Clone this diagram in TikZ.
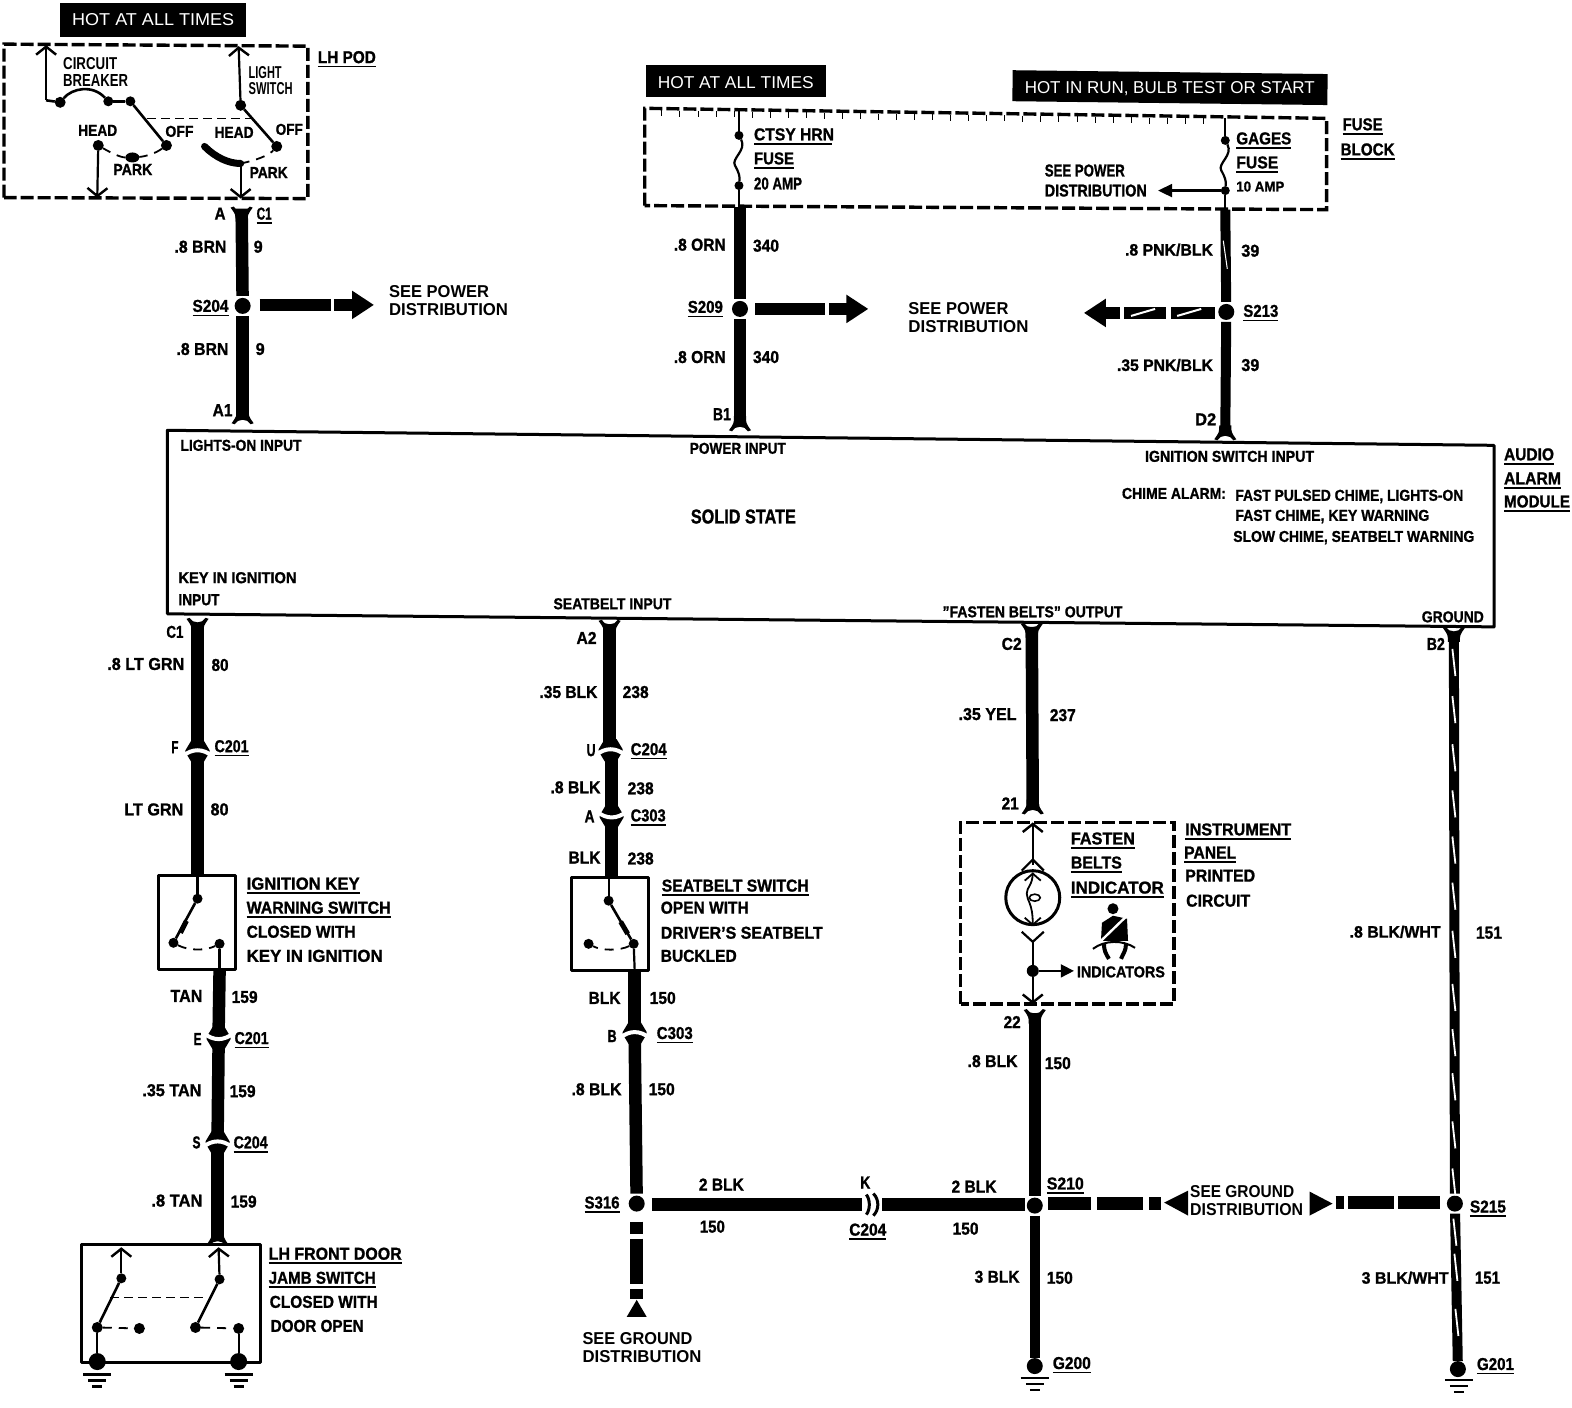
\documentclass[tikz,border=0pt]{standalone}
\usepackage{fontspec}
\usepackage{graphicx}
\setmainfont{Liberation Sans}[BoldFeatures={FakeBold=1.2}]
\newfontfamily\plainb{Liberation Sans Bold}
\usetikzlibrary{arrows.meta}
\newcount\tc
\newcount\wc
\newcommand\tx[5][12]{\global\advance\tc by 1 \node[txt] (t\the\tc) at (#2,#3) {\resizebox{#4pt}{#1pt}{#5}};}
\newcommand\ux[5][0]{\tx{#2}{#3}{#4}{#5}\draw[ul] ([yshift=-3.5pt]t\the\tc.base west) -- ([yshift=-3.5pt,xshift=#1pt]t\the\tc.base east);}
\newcommand\wirexy[3][wire]{\global\advance\wc by 1 \coordinate (w\the\wc a) at (#2); \coordinate (w\the\wc b) at (#3); \draw[#1] (w\the\wc a) -- (w\the\wc b);}
\newcommand\capdown[2]{\fill (#1-6,#2-9) .. controls (#1-6,#2-2) .. (#1-11,#2+5) -- (#1-8,#2+6) .. controls (#1-5,#2) and (#1+5,#2) .. (#1+8,#2+6) -- (#1+11,#2+5) .. controls (#1+6,#2-2) .. (#1+6,#2-9) -- cycle;}
\newcommand\capup[2]{\fill (#1-6,#2+9) .. controls (#1-6,#2+2) .. (#1-11,#2-5) -- (#1-8,#2-6) .. controls (#1-5,#2) and (#1+5,#2) .. (#1+8,#2-6) -- (#1+11,#2-5) .. controls (#1+6,#2+2) .. (#1+6,#2+9) -- cycle;}
\newcommand\conn[3]{\fill (#1-6,#2-11) -- (#1-12,#2-1) -- (#1-12,#2+1) -- (#1-6,#2+11) -- (#1+6,#2+11) -- (#1+12,#2+1) -- (#1+12,#2-1) -- (#1+6,#2-11) -- cycle;\draw[white,line width=4pt] (#1-15,#2+#3*5) .. controls (#1-5,#2-#3*3) and (#1+5,#2-#3*3) .. (#1+15,#2+#3*5);}
\newcommand\gndsym[2]{\draw[thin3] (#1-14,#2) -- (#1+14,#2); \draw[thin3] (#1-9,#2+6) -- (#1+9,#2+6); \draw[thin3] (#1-5,#2+12) -- (#1+5,#2+12);}
\newcommand\wslash[2]{\draw[white,line width=1.8pt] (#1-1.5,#2) -- (#1+1.5,#2+27);}
\tikzset{
  txt/.style={inner sep=0,outer sep=0,anchor=west,font=\bfseries},
  ul/.style={line width=1.6pt},
  wire/.style={line width=12.5pt},
  midwire/.style={line width=10pt},
  thin3/.style={line width=2.6pt},
  hair/.style={line width=2.2pt},
  blade/.style={line width=2.6pt},
  dashbox/.style={line width=3.4pt,dash pattern=on 13pt off 4pt},
  link/.style={line width=1.4pt,dash pattern=on 9pt off 5pt},
  dashs/.style={line width=1.8pt,dash pattern=on 9pt off 7pt},
  solid box/.style={line width=3pt,line join=round},
  jdot/.style={circle,fill=black,inner sep=0,outer sep=0,minimum size=#1},
  splice/.style={circle,fill=black,inner sep=0,outer sep=2pt,minimum size=16pt},
  barb/.style={hair,-{Straight Barb[length=8pt,width=20pt,line width=2.4pt]}},
  blockarrow/.style={wire,-{Triangle[length=22pt,width=27pt]}},
  blackbox/.style={fill=black,text=white,inner sep=0,outer sep=0,anchor=north west,font=\bfseries},
}
\begin{document}
\begin{tikzpicture}[x=1.0027pt,y=-1.003pt]
\useasboundingbox (0,0) rectangle (1567.8,1403.8);
\fill[white] (0,0) rectangle (1567.8,1403.8);

% black banners
\node[blackbox,minimum width=186pt,minimum height=34pt] (hot1) at (60,3) {};
\tx{72}{20}{162}{\textcolor{white}{\mdseries HOT AT ALL TIMES}}
\node[blackbox,minimum width=180pt,minimum height=32pt] (hot2) at (644,65) {};
\tx{656}{82}{156}{\textcolor{white}{\mdseries HOT AT ALL TIMES}}
\node[blackbox,minimum width=315pt,minimum height=31pt,rotate=-0.7] (hot3) at (1010,70) {};
\tx{1022}{88}{290}{\textcolor{white}{\mdseries HOT IN RUN, BULB TEST OR START}}

% LH pod
\draw[dashbox] (4,197) -- (4,44) -- (307,46) -- (307,198) -- cycle;
\node[jdot=11pt] (cb1) at (60,102) {};
\node[jdot=10pt] (cb2) at (108,101) {};
\node[jdot=10pt] (cb3) at (130,101) {};
\node[jdot=11pt] (cb4) at (166,145) {};
\node[jdot=10pt,xscale=1.4] (cb5) at (132,157) {};
\node[jdot=11pt] (cb6) at (98,145) {};
\coordinate (cbt) at (46,45); \coordinate (cbc) at (46,100);
\coordinate (cbg) at (97,197);
\draw[barb] (cbc) -- (cbt);
\draw[thin3] (cbc) -- (cb1);
\draw[thin3] (cb1) .. controls (72,88) and (92,84) .. (cb2);
\draw[thin3] (cb2) -- (cb3);
\draw[blade] (cb3) -- (cb4);
\draw[dashs] (cb4) .. controls (155,153) and (145,156) .. (cb5);
\draw[dashs] (cb5) .. controls (120,157) and (110,152) .. (cb6);
\draw[barb] (cb6) -- (cbg);
\node[jdot=11pt] (ls1) at (240,105) {};
\node[jdot=11pt] (ls2) at (276,146) {};
\coordinate (lst) at (238,46); \coordinate (lsb) at (240,198);
\coordinate (lsm) at (240,163); \coordinate (lsh) at (204,146);
\draw[barb] (ls1) -- (lst);
\draw[blade] (ls1) -- (ls2);
\draw[line width=7pt,line cap=round] (lsh) .. controls (215,157) and (228,163) .. (lsm);
\draw[dashs] (lsm) .. controls (255,160) and (268,155) .. (ls2);
\draw[barb] (lsm) -- (lsb);
\coordinate (lka) at (147,118); \coordinate (lkb) at (250,118);
\draw[link] (lka) -- (lkb);
\ux{317}{57}{58}{LH POD}
\tx{63}{63}{54}{{\plainb CIRCUIT}}
\tx{63}{80}{65}{{\plainb BREAKER}}
\tx{248}{72}{33}{{\plainb LIGHT}}
\tx{248}{88}{44}{{\plainb SWITCH}}
\tx[11]{78}{130}{39}{HEAD}
\tx[11]{165}{131}{28}{OFF}
\tx[11]{214}{132}{39}{HEAD}
\tx[11]{275}{129}{27}{OFF}
\tx[11]{113}{169}{39}{PARK}
\tx[11]{249}{172}{38}{PARK}
\tx{214}{213}{11}{A}
\ux{256}{213}{15}{C1}

% fuse block
\draw[dashbox] (643,205) -- (643,108) -- (1323,118) -- (1323,209) -- cycle;
\foreach \i in {0,...,30}{\draw[line width=.7pt] ({660+\i*18},{110+\i*.265}) -- ({660+\i*18},{116+\i*.265});}
\node[jdot=9pt] (f1) at (737,135) {};
\node[jdot=9pt] (f2) at (737,185) {};
\coordinate (f1t) at (737,108); \coordinate (f2b) at (737,206);
\draw[hair] (f1t) -- (f1);
\draw[hair] (f1) .. controls (745,150) and (729,158) .. (733,165) .. controls (737,172) and (738,176) .. (f2);
\draw[hair] (f2) -- (f2b);
\node[jdot=9pt] (g1) at (1222,140) {};
\node[jdot=9pt] (g2) at (1222,190) {};
\coordinate (g1t) at (1222,118); \coordinate (g2b) at (1222,209); \coordinate (g3) at (1155,190);
\draw[hair] (g1t) -- (g1);
\draw[hair] (g1) .. controls (1230,155) and (1214,163) .. (1218,170) .. controls (1222,177) and (1223,181) .. (g2);
\draw[hair] (g2) -- (g2b);
\draw[hair,-{Triangle[length=14pt,width=13pt]}] (g2) -- (g3);
\ux[-2]{752}{134}{80}{CTSY HRN}
\ux{752}{158}{40}{FUSE}
\tx{752}{183}{48}{20 AMP}
\ux{1233}{138}{55}{GAGES}
\ux{1233}{162}{42}{FUSE}
\tx[10]{1233}{186}{48}{10 AMP}
\tx{1042}{170}{80}{SEE POWER}
\tx{1042}{190}{102}{DISTRIBUTION}
\ux{1339}{124}{40}{FUSE}
\ux{1337}{149}{54}{BLOCK}

% upper wires
\node[splice] (s204) at (242,305) {};
\node[splice] (s209) at (738,308) {};
\node[splice] (s213) at (1223,311) {};
\coordinate (c1pin) at (241,208); \coordinate (a1pin) at (242,417);
\coordinate (f1pin) at (738,206); \coordinate (b1pin) at (738,424);
\coordinate (f2pin) at (1222,209); \coordinate (d2pin) at (1222,431);
\draw[wire] (c1pin) -- (s204);
\draw[wire] (s204) -- (a1pin);
\draw[wire] (f1pin) -- (s209);
\draw[wire] (s209) -- (b1pin);
\draw[midwire] (f2pin) -- (s213);
\draw[midwire] (s213) -- (d2pin);
\capup{241}{212}
\capdown{242}{417}
\capdown{738}{424}
\capdown{1222}{433}
\wirexy{259,304}{330,304}
\wirexy[blockarrow]{333,304}{373,304}
\wirexy{753,308}{823,308}
\wirexy[blockarrow]{827,308}{866,308}
\wirexy[blockarrow]{1117,312}{1081,312}
\wirexy{1121,312}{1163,312}
\wirexy{1168,312}{1212,312}
\draw[white,line width=2pt] (1128,315) -- (1152,308);
\draw[white,line width=2pt] (1174,315) -- (1198,308);
\draw[white,line width=1pt] (1220,240) -- (1224,268);

\tx{174}{246}{52}{.8 BRN}
\tx{253}{246}{9}{9}
\ux{192}{305}{36}{S204}
\tx{388}{291}{100}{{\plainb SEE POWER}}
\tx{388}{309}{119}{{\plainb DISTRIBUTION}}
\tx{176}{348}{52}{.8 BRN}
\tx{255}{348}{9}{9}
\tx{212}{409}{20}{A1}
\tx{672}{244}{52}{.8 ORN}
\tx{751}{245}{26}{340}
\ux{686}{306}{35}{S209}
\tx{906}{308}{100}{{\plainb SEE POWER}}
\tx{906}{326}{120}{{\plainb DISTRIBUTION}}
\tx{672}{356}{52}{.8 ORN}
\tx{751}{356}{26}{340}
\tx{711}{413}{18}{B1}
\tx{1122}{249}{88}{.8 PNK/BLK}
\tx{1238}{250}{18}{39}
\ux{1240}{310}{35}{S213}
\tx{1114}{364}{96}{.35 PNK/BLK}
\tx{1238}{364}{18}{39}
\tx{1192}{418}{21}{D2}

% module
\coordinate (mtl) at (167,429); \coordinate (mtr) at (1490,444);
\coordinate (mbr) at (1490,625); \coordinate (mbl) at (167,612);
\draw[solid box] (mtl) -- (mtr) -- (mbr) -- (mbl) -- cycle;
\tx[11]{180}{444}{121}{LIGHTS-ON INPUT}
\tx[11]{688}{447}{96}{POWER INPUT}
\tx[11]{1142}{455}{169}{IGNITION SWITCH INPUT}
\tx[11]{1119}{492}{104}{CHIME ALARM:}
\tx[11]{1232}{495}{228}{FAST PULSED CHIME, LIGHTS-ON}
\tx[11]{1232}{515}{194}{FAST CHIME, KEY WARNING}
\tx[11]{1230}{536}{241}{SLOW CHIME, SEATBELT WARNING}
\tx[14]{689}{515}{105}{SOLID STATE}
\tx[11]{178}{576}{118}{KEY IN IGNITION}
\tx[11]{178}{598}{41}{INPUT}
\tx[11]{552}{602}{118}{SEATBELT INPUT}
\tx[11]{940}{610}{180}{"FASTEN BELTS" OUTPUT}
\tx[11]{1418}{615}{62}{GROUND}
\ux{1500}{453}{50}{AUDIO}
\ux{1500}{477}{57}{ALARM}
\ux{1500}{500}{66}{MODULE}

% lower left: key switch
\coordinate (kpin) at (197,622); \coordinate (kc1) at (197,744); \coordinate (kc2) at (197,756);
\coordinate (kbox) at (197,873);
\draw[wire] (kpin) -- (kc1);
\draw[wire] (kc2) -- (kbox);
\capup{197}{622}
\conn{197}{749}{1}
\coordinate (ka) at (158,873); \coordinate (kb) at (235,967);
\draw[solid box] (ka) rectangle (kb);
\node[jdot=10pt] (k1) at (197,896) {};
\node[jdot=10pt] (k2) at (173,940) {};
\node[jdot=10pt] (k3) at (219,941) {};
\coordinate (kbot) at (219,967); 
\draw[hair] (kbox) -- (k1);
\draw[blade] (k1) -- (k2);
\draw[line width=5pt] (186,918) -- (180,930);
\draw[dashs] (k2) .. controls (188,948) and (205,948) .. (k3);
\draw[hair] (k3) -- (kbot);
\coordinate (kw2) at (218,1030); \coordinate (kw3) at (218,1042);
\coordinate (kw4) at (217,1134); \coordinate (kw5) at (217,1146); \coordinate (dpin) at (217,1236);
\draw[wire] (kbot) -- (kw2);
\draw[wire] (kw3) -- (kw4);
\draw[wire] (kw5) -- (dpin);
\conn{218}{1035}{-1}
\conn{217}{1139}{1}
\capdown{217}{1236}

\tx{166}{630}{17}{C1}
\tx{107}{662}{77}{.8 LT GRN}
\tx{211}{663}{17}{80}
\tx{171}{745}{7}{F}
\ux{214}{744}{34}{C201}
\tx{124}{807}{59}{LT GRN}
\tx{210}{807}{18}{80}
\ux{246}{881}{113}{IGNITION KEY}
\ux{246}{905}{144}{WARNING SWITCH}
\tx{246}{929}{109}{CLOSED WITH}
\tx{246}{953}{136}{KEY IN IGNITION}
\tx{170}{993}{32}{TAN}
\tx{231}{994}{26}{159}
\tx{193}{1036}{8}{E}
\ux{234}{1035}{34}{C201}
\tx{142}{1087}{59}{.35 TAN}
\tx{229}{1088}{26}{159}
\tx{192}{1139}{8}{S}
\ux{233}{1139}{34}{C204}
\tx{151}{1197}{51}{.8 TAN}
\tx{230}{1198}{26}{159}

% door switch
\begin{scope}[shift={(0,-2.5)}]
\coordinate (da) at (81,1243); \coordinate (db) at (260,1361);
\draw[solid box] (da) rectangle (db);
\node[jdot=10pt] (d1) at (121,1277) {};
\node[jdot=11pt] (d2) at (97,1326) {};
\node[jdot=11pt] (d3) at (139,1327) {};
\node[jdot=10pt] (d4) at (219,1278) {};
\node[jdot=11pt] (d5) at (195,1326) {};
\node[jdot=11pt] (d6) at (238,1327) {};
\node[jdot=17pt] (dg1) at (97,1360) {};
\node[jdot=17pt] (dg2) at (238,1360) {};
\coordinate (da1) at (121,1246); \coordinate (da2) at (218,1246);
\draw[barb] (d1) -- (da1);
\draw[barb] (d4) -- (da2);
\draw[blade] (d1) -- (d2);
\draw[blade] (d4) -- (d5);
\draw[dashs] (d2) -- (d3);
\draw[dashs] (d5) -- (d6);
\draw[hair] (d2) -- (dg1);
\draw[hair] (d6) -- (dg2);
\coordinate (dl1) at (110,1296); \coordinate (dl2) at (207,1296);
\draw[link] (dl1) -- (dl2);
\gndsym{97}{1373}
\gndsym{238}{1373}
\end{scope}
\ux{268}{1250}{133}{LH FRONT DOOR}
\ux{268}{1274}{107}{JAMB SWITCH}
\tx{269}{1298}{108}{CLOSED WITH}
\tx{270}{1322}{93}{DOOR OPEN}

% seatbelt switch column
\coordinate (spin) at (608,622); \coordinate (sc1) at (608,743); \coordinate (sc2) at (610,754);
\coordinate (sc3) at (610,808); \coordinate (sc4) at (610,820); \coordinate (swb) at (610,875);
\coordinate (sbox) at (607,875);
\draw[wire] (spin) -- (sc1);
\draw[wire] (sc2) -- (sc3);
\draw[wire] (sc4) -- (swb);
\capup{608}{624}
\conn{609}{748}{1}
\conn{610}{814}{-1}
\coordinate (sa) at (570,875); \coordinate (sb) at (647,968);
\draw[solid box] (sa) rectangle (sb);
\node[jdot=10pt] (w1) at (607,898) {};
\node[jdot=10pt] (w2) at (632,941) {};
\node[jdot=10pt] (w3) at (587,941) {};
\coordinate (sbot) at (633,968);
\draw[hair] (sbox) -- (w1);
\draw[blade] (w1) -- (w2);
\draw[line width=5pt] (619,919) -- (626,931);
\draw[dashs] (w2) .. controls (618,948) and (600,948) .. (w3);
\draw[hair] (w2) -- (sbot);
\node[splice] (s316) at (635,1200) {};
\coordinate (sw2) at (633,1025); \coordinate (sw3) at (633,1036);
\draw[wire] (sbot) -- (sw2);
\draw[wire] (sw3) -- (s316);
\conn{633}{1030}{1}
\wirexy{635,1218}{635,1230}
\wirexy{635,1235}{635,1280}
\wirexy{635,1285}{635,1295}
\coordinate (tri1) at (635,1296); \coordinate (tri2) at (645,1313); \coordinate (tri3) at (625,1313);
\fill (tri1) -- (tri2) -- (tri3) -- cycle;
\tx{575}{636}{20}{A2}
\tx{538}{690}{58}{.35 BLK}
\tx{621}{690}{26}{238}
\tx{585}{748}{9}{U}
\ux{629}{747}{36}{C204}
\tx{549}{785}{50}{.8 BLK}
\tx{626}{786}{26}{238}
\tx{583}{814}{10}{A}
\ux{629}{813}{35}{C303}
\tx{567}{855}{32}{BLK}
\tx{626}{856}{26}{238}
\ux{660}{883}{147}{SEATBELT SWITCH}
\tx{659}{905}{88}{OPEN WITH}
\tx{659}{930}{162}{DRIVER'S SEATBELT}
\tx{659}{953}{76}{BUCKLED}
\tx{587}{995}{32}{BLK}
\tx{648}{995}{26}{150}
\tx{606}{1033}{9}{B}
\ux{655}{1030}{36}{C303}
\tx{570}{1086}{50}{.8 BLK}
\tx{647}{1086}{26}{150}
\ux{583}{1199}{35}{S316}
\tx{581}{1335}{110}{{\plainb SEE GROUND}}
\tx{581}{1353}{119}{{\plainb DISTRIBUTION}}

% fasten belts
\coordinate (bpin) at (1029,625); \coordinate (b21) at (1030,806);
\draw[wire] (bpin) -- (b21);
\capup{1029}{627}
\capdown{1030}{806}
\begin{scope}[shift={(-2,-2)}]
\draw[dashbox] (960,1003) -- (960,822) -- (1173,822) -- (1173,1003) -- cycle;
\coordinate (ba) at (1032,822); \coordinate (bb) at (1032,864);
\draw[barb] (bb) -- (ba);
\draw[hair] (1021,870) -- (1032,859) -- (1043,870);
\node[circle,draw=black,line width=3pt,minimum size=54pt,inner sep=0] (lamp) at (1032,897) {};
\coordinate (lt) at (1032,872); \coordinate (lb) at (1032,923);
\draw[line width=1.8pt] (1024,880) -- (1032,873) -- (1040,880);
\draw[line width=1.8pt] (1024,917) -- (1032,924) -- (1040,917);
\draw[line width=1.8pt] (lt) .. controls (1032,885) and (1026,886) .. (1026,893) .. controls (1026,900) and (1032,902) .. (lb);
\draw[line width=1.6pt] (1034,897) ellipse (5.5pt and 3.5pt);
\draw[hair] (1021,931) -- (1032,941) -- (1043,931);
\node[jdot=12pt] (bdot) at (1032,970) {};
\coordinate (bv) at (1032,941); \coordinate (bbot) at (1032,1003); \coordinate (bind) at (1073,970);
\draw[hair] (bv) -- (bdot);
\draw[barb] (bdot) -- (bbot);
\draw[line width=1.6pt,-{Triangle[length=13pt,width=13pt]}] (bdot) -- (bind);
% belted figure
\fill (1112,908) circle (5.5pt);
\fill (1101,922) -- (1112,915) -- (1126,918) -- (1127,940) -- (1100,940) -- cycle;
\draw[white,line width=2.4pt] (1098,942) -- (1128,913);
\draw[line width=2pt] (1092,948) .. controls (1104,939) and (1122,939) .. (1134,947);
\draw[line width=4pt] (1103,943) .. controls (1103,950) and (1105,953) .. (1108,958);
\draw[line width=4pt] (1125,943) .. controls (1125,950) and (1122,953) .. (1120,958);
\end{scope}
\tx{999}{801}{17}{21}
\tx{999}{642}{20}{C2}
\tx{956}{712}{58}{.35 YEL}
\tx{1047}{713}{26}{237}
\ux{1068}{836}{64}{FASTEN}
\ux{1068}{860}{51}{BELTS}
\ux{1068}{885}{93}{INDICATOR}
\tx[11]{1074}{969}{88}{INDICATORS}
\ux{1182}{827}{106}{INSTRUMENT}
\ux{1181}{850}{52}{PANEL}
\tx{1182}{873}{70}{PRINTED}
\tx{1183}{898}{64}{CIRCUIT}

% lower right wiring
\node[splice] (s210) at (1032,1202) {};
\node[splice] (s215) at (1451,1200) {};
\node[jdot=16pt] (g200) at (1032,1362) {};
\node[jdot=16pt] (g201) at (1454,1365) {};
\coordinate (b22) at (1032,1010);
\coordinate (gpin) at (1450,632);
\draw[wire] (b22) -- (s210);
\capup{1032}{1012}
\draw[midwire] (s210) -- (g200);
\draw[midwire] (gpin) -- (s215);
\draw[midwire] (s215) -- (g201);
\capup{1450}{631}
\foreach \yy in {647,694,742,788,834,880,928,981,1026,1070,1118,1165}{\wslash{1450}{\yy}}
\wslash{1451}{1215}
\wslash{1452}{1250}
\wslash{1453}{1305}
\gndsym{1032}{1374}
\gndsym{1455}{1376}
\wirexy{650,1201}{860,1201}
\wirexy{880,1201}{1022,1201}
\draw[line width=3pt] (864,1191) .. controls (868,1196) and (868,1206) .. (864,1211);
\draw[line width=3pt] (871,1190) .. controls (877,1196) and (877,1206) .. (871,1212);
\wirexy{1045,1200}{1088,1200}
\wirexy{1094,1200}{1140,1200}
\wirexy{1146,1200}{1158,1200}
\coordinate (ta) at (1161,1199); \coordinate (tb) at (1185,1187); \coordinate (tc) at (1185,1212);
\fill (ta) -- (tb) -- (tc) -- cycle;
\coordinate (ua) at (1329,1200); \coordinate (ub) at (1306,1188); \coordinate (uc) at (1306,1212);
\fill (ua) -- (ub) -- (uc) -- cycle;
\wirexy{1332,1199}{1340,1199}
\wirexy{1344,1199}{1390,1199}
\wirexy{1394,1199}{1436,1199}
\tx{1001}{1019}{17}{22}
\tx{965}{1058}{50}{.8 BLK}
\tx{1042}{1060}{26}{150}
\tx{697}{1181}{45}{2 BLK}
\tx{858}{1179}{10}{K}
\tx{698}{1223}{25}{150}
\ux{847}{1226}{37}{C204}
\tx{949}{1183}{45}{2 BLK}
\tx{950}{1225}{26}{150}
\ux{1044}{1180}{37}{S210}
\tx{1187}{1188}{104}{{\plainb SEE GROUND}}
\tx{1187}{1206}{113}{{\plainb DISTRIBUTION}}
\ux{1466}{1203}{36}{S215}
\tx{972}{1273}{45}{3 BLK}
\tx{1044}{1274}{26}{150}
\tx{1358}{1274}{87}{3 BLK/WHT}
\tx{1471}{1274}{25}{151}
\tx{1346}{929}{91}{.8 BLK/WHT}
\tx{1472}{930}{26}{151}
\tx{1423}{642}{18}{B2}
\ux{1050}{1359}{38}{G200}
\ux{1473}{1360}{37}{G201}
\end{tikzpicture}
\end{document}
